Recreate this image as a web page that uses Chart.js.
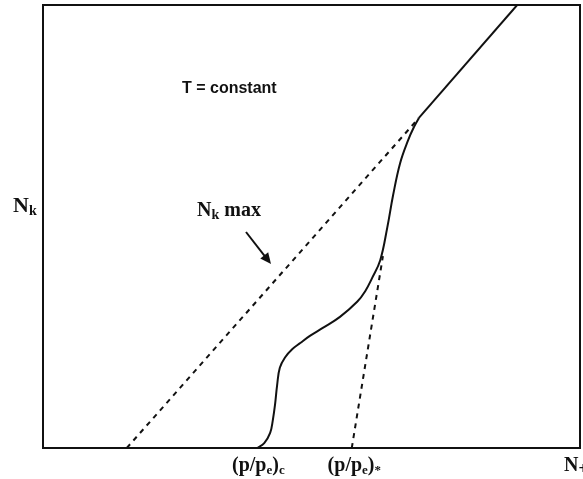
<!DOCTYPE html>
<html>
<head>
<meta charset="utf-8">
<script src="https://cdn.jsdelivr.net/npm/chart.js@4.4.1/dist/chart.umd.min.js"></script>
<style>
  html, body { margin: 0; padding: 0; background: #fff; }
  #wrap { width: 583px; height: 479px; }
</style>
</head>
<body>
<div id="wrap"><canvas id="myGraphicIsotherm"></canvas></div>
<script>
// curved part of the isotherm (x and y in 0..100 plot units)
const curveX = [39.9, 41.2, 42.3, 42.8, 43.2, 43.6, 44.1, 45.1, 46.4, 47.9, 49.7, 52.1, 55.3, 58.5, 60.0, 61.3, 62.8, 64.1, 65.2, 66.5, 68.0, 69.1, 70.0];
const curveY = [0, 1.1, 3.4, 6.3, 9.7, 14.2, 18.1, 20.5, 22.3, 23.7, 25.3, 27.1, 29.6, 33.0, 35.4, 38.4, 42.4, 49.7, 57.1, 64.3, 69.5, 72.5, 74.5];
// straight part after it meets Nk max
const straightX = [70.0, 88.3];
const straightY = [74.5, 100];
// dashed Nk max line
const maxX = [15.6, 70.0];
const maxY = [0, 74.5];
// dashed tangent down to (p/pe)*
const tangX = [57.5, 63.3];
const tangY = [0, 43.3];
// x axis labels
const tickValues = [35.2, 53.0];
const tickLabels = [
  [["(p/p", 0], ["e", 1], [")", 0], ["c", 1]],
  [["(p/p", 0], ["e", 1], [")", 0], ["*", 1]],
];

const toPoints = (xs, ys) => xs.map((x, i) => ({ x, y: ys[i] }));

function drawRich(ctx, parts, x, y, size, subSize) {
  let cx = x;
  parts.forEach(([t, sub]) => {
    ctx.font = "bold " + (sub ? subSize : size) + "px 'Liberation Serif'";
    ctx.fillText(t, cx, sub ? y + 3 : y);
    cx += ctx.measureText(t).width;
  });
}

const labelsPlugin = {
  id: "labels",
  afterDraw(chart) {
    const { ctx, scales } = chart;
    ctx.save();
    ctx.fillStyle = "#111";
    ctx.textBaseline = "alphabetic";
    ctx.textAlign = "left";

    tickValues.forEach((v, i) => {
      drawRich(ctx, tickLabels[i], scales.x.getPixelForValue(v), 471, 20, 13);
    });
    drawRich(ctx, [["N", 0], ["+", 1]], 564, 471, 20, 16);
    drawRich(ctx, [["N", 0], ["k", 1]], 13, 212, 22, 14);
    drawRich(ctx, [["N", 0], ["k", 1], [" max", 0]], 197, 216, 20, 14);

    ctx.font = "bold 16px 'Liberation Sans'";
    ctx.fillText("T = constant", 182, 93);

    // arrow
    const x0 = 246, y0 = 232, x1 = 271, y1 = 264;
    const a = Math.atan2(y1 - y0, x1 - x0);
    ctx.strokeStyle = "#111";
    ctx.lineWidth = 2;
    ctx.beginPath();
    ctx.moveTo(x0, y0);
    ctx.lineTo(x1 - 6 * Math.cos(a), y1 - 6 * Math.sin(a));
    ctx.stroke();
    ctx.beginPath();
    ctx.moveTo(x1, y1);
    ctx.lineTo(x1 - 11 * Math.cos(a) + 5 * Math.sin(a), y1 - 11 * Math.sin(a) - 5 * Math.cos(a));
    ctx.lineTo(x1 - 11 * Math.cos(a) - 5 * Math.sin(a), y1 - 11 * Math.sin(a) + 5 * Math.cos(a));
    ctx.closePath();
    ctx.fill();
    ctx.restore();
  },
};

const hiddenAxis = (position, axis) => ({
  type: "linear",
  position,
  axis,
  min: 0,
  max: 100,
  ticks: { display: false },
  grid: { display: false, drawTicks: false },
  border: { display: true, color: "#111", width: 2 },
});

const lineSet = (label, xs, ys, extra) => ({
  label,
  data: toPoints(xs, ys),
  showLine: true,
  borderColor: "#111",
  borderWidth: 2,
  pointRadius: 0,
  ...extra,
});

const ctx = document.getElementById("myGraphicIsotherm").getContext("2d");
const myGraphic = new Chart(ctx, {
  type: "scatter",
  data: {
    datasets: [
      lineSet("isotherm", curveX, curveY, { tension: 0.4 }),
      lineSet("isotherm linear", straightX, straightY, {}),
      lineSet("Nk max", maxX, maxY, { borderDash: [5, 5] }),
      lineSet("tangent", tangX, tangY, { borderDash: [5, 5] }),
    ],
  },
  options: {
    responsive: true,
    maintainAspectRatio: false,
    animation: false,
    layout: { padding: { left: 43, right: 3, top: 5, bottom: 31 } },
    plugins: { legend: { display: false }, tooltip: { enabled: false } },
    scales: {
      x: hiddenAxis("bottom", "x"),
      y: hiddenAxis("left", "y"),
      x2: hiddenAxis("top", "x"),
      y2: hiddenAxis("right", "y"),
    },
  },
  plugins: [labelsPlugin],
});
</script>
</body>
</html>
